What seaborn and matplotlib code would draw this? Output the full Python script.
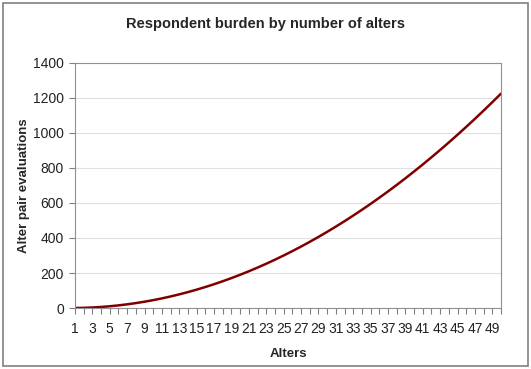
import pandas as pd
import numpy as np
import seaborn as sns
import matplotlib.pyplot as plt
import matplotlib.patches as patches

alters = list(range(1, 51))
evaluations = [0, 1, 3, 6, 10, 15, 21, 28, 36, 45,
               55, 66, 78, 91, 105, 120, 136, 153, 171, 190,
               210, 231, 253, 276, 300, 325, 351, 378, 406, 435,
               465, 496, 528, 561, 595, 630, 666, 703, 741, 780,
               820, 861, 903, 946, 990, 1035, 1081, 1128, 1176, 1225]
y_ticks = [0, 200, 400, 600, 800, 1000, 1200, 1400]

df = pd.DataFrame({'alters': alters, 'evaluations': evaluations})

sns.set_style('white')
plt.rcParams['font.family'] = ['Liberation Sans', 'DejaVu Sans']

fig = plt.figure(figsize=(5.31, 3.69), dpi=100)
ax = fig.add_axes([0.1412, 0.1653, 0.8023, 0.664])

sns.lineplot(data=df, x='alters', y='evaluations', ax=ax, color='#800000', linewidth=1.8)

ax.set_xlim(1, 50)
ax.set_ylim(0, 1400)
ax.set_yticks(y_ticks)
ax.set_yticklabels([str(v) for v in y_ticks], fontsize=10, color='#222222')
ax.set_xticks(alters)
ax.set_xticklabels([str(a) if a % 2 == 1 else '' for a in alters], fontsize=10, color='#222222')
ax.tick_params(axis='x', direction='out', length=4, width=0.8, color='#808080', pad=6, bottom=True)
ax.tick_params(axis='y', direction='out', length=4, width=0.8, color='#808080', pad=4, left=True)
ax.yaxis.grid(True, color='#e0e0e0', linewidth=0.8)
ax.set_axisbelow(True)
for s in ax.spines.values():
    s.set_color('#909090')
    s.set_linewidth(0.8)

ax.set_xlabel('Alters', fontsize=9.5, fontweight='bold', labelpad=9)
ax.set_ylabel('Alter pair evaluations', fontsize=9.5, fontweight='bold', labelpad=2)
fig.text(0.5, 0.935, 'Respondent burden by number of alters', ha='center', va='center',
         fontsize=10.5, fontweight='bold')

# outer frame like the chart area border
fig.patches.append(patches.Rectangle((0.006, 0.008), 0.988, 0.984, transform=fig.transFigure,
                                     fill=False, edgecolor='#808080', linewidth=1.2))

fig.savefig('out.png', dpi=100)
